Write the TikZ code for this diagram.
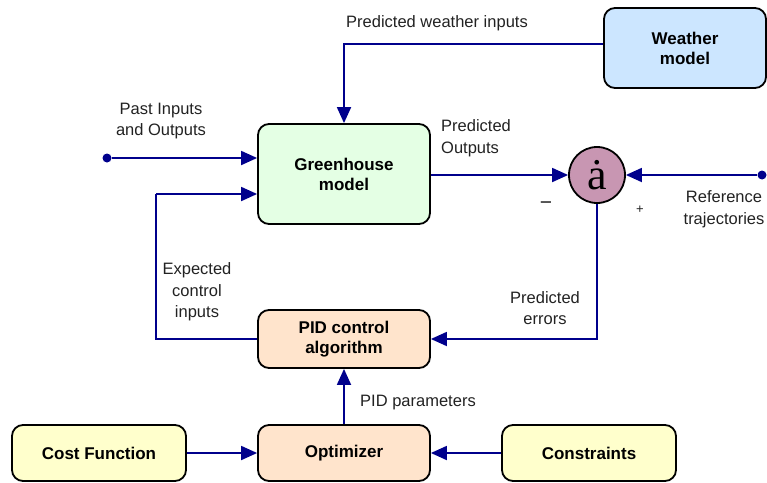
\documentclass[tikz,border=0pt]{standalone}
\usepackage{fontspec}
\setmainfont{Liberation Sans}
\newfontfamily\serfont{Liberation Serif}
\usetikzlibrary{arrows.meta,calc}
\definecolor{navy}{RGB}{0,0,140}
\definecolor{wfill}{RGB}{204,230,255}
\definecolor{gfill}{RGB}{228,255,228}
\definecolor{ofill}{RGB}{255,228,204}
\definecolor{yfill}{RGB}{255,255,204}
\definecolor{sfill}{RGB}{200,150,178}
\definecolor{txt}{RGB}{34,34,34}
\begin{document}
\begin{tikzpicture}[x=1pt,y=-1pt,
  blk/.style={draw=black,line width=1.8pt,rounded corners=11pt,align=center,
    font=\fontsize{17}{20}\selectfont\bfseries,text=black,inner sep=0pt},
  lbl/.style={font=\fontsize{16.5}{21.5}\selectfont,text=txt,align=center,inner sep=0pt},
  con/.style={draw=navy,line width=1.8pt,-{Triangle[length=16pt,width=14pt]}},
  line/.style={draw=navy,line width=1.8pt},
  dotn/.style={circle,fill=navy,inner sep=0pt,minimum size=9pt}]
\useasboundingbox (0,0) rectangle (767,482);
% blocks
\node[blk,fill=wfill,minimum width=162pt,minimum height=80pt] (weather) at (685,48) {Weather\\model};
\node[blk,fill=gfill,minimum width=172pt,minimum height=100pt] (gh) at (344,174) {Greenhouse\\model};
\node[blk,fill=ofill,minimum width=172pt,minimum height=58pt] (pid) at (344,339) {PID control\\algorithm};
\node[blk,fill=ofill,minimum width=172pt,minimum height=56pt] (opt) at (344,453) {Optimizer};
\node[blk,fill=yfill,minimum width=174pt,minimum height=56pt] (cost) at (99,453) {Cost Function};
\node[blk,fill=yfill,minimum width=174pt,minimum height=56pt] (cons) at (589,453) {Constraints};
\node[circle,draw=black,line width=1.8pt,fill=sfill,minimum size=56pt,inner sep=0pt,
  font=\fontsize{44}{44}\selectfont\serfont] (sum) at (597,175) {\raisebox{-3pt}{ȧ}};
% dots
\node[dotn] (past) at (107,158) {};
\node[dotn] (ref) at (762,175) {};
\coordinate (el) at (156,194);
% connectors
\draw[con] ([yshift=4pt]weather.west) -| (gh.north);
\draw[con] (past) -- (gh.west |- past);
\draw[con] (gh.east |- sum) -- (sum.west);
\draw[con] (ref) -- (sum.east);
\draw[con] (sum.south) |- (pid.east);
\draw[line] (pid.west) -| (el);
\draw[con] (el) -- (gh.west |- el);
\draw[con] (opt.north) -- (pid.south);
\draw[con] (cost.east) -- (opt.west);
\draw[con] (cons.west) -- (opt.east);
% labels
\node[lbl] (lw) at (437,23) {Predicted weather inputs};
\node[lbl] (lp) at (161,121) {Past Inputs\\and Outputs};
\node[lbl,align=left,anchor=west] (lo) at (441,138) {Predicted\\Outputs};
\node[lbl,font=\fontsize{21}{21}\selectfont] (lm) at (546,206) {−};
\node[lbl,font=\fontsize{13}{13}\selectfont] (lpl) at (640,210) {+};
\node[lbl] (lr) at (724,209) {Reference\\trajectories};
\node[lbl] (le) at (545,308) {Predicted\\errors};
\node[lbl] (lc) at (197,292) {Expected\\control\\inputs};
\node[lbl] (lpp) at (418,403) {PID parameters};
\end{tikzpicture}
\end{document}
